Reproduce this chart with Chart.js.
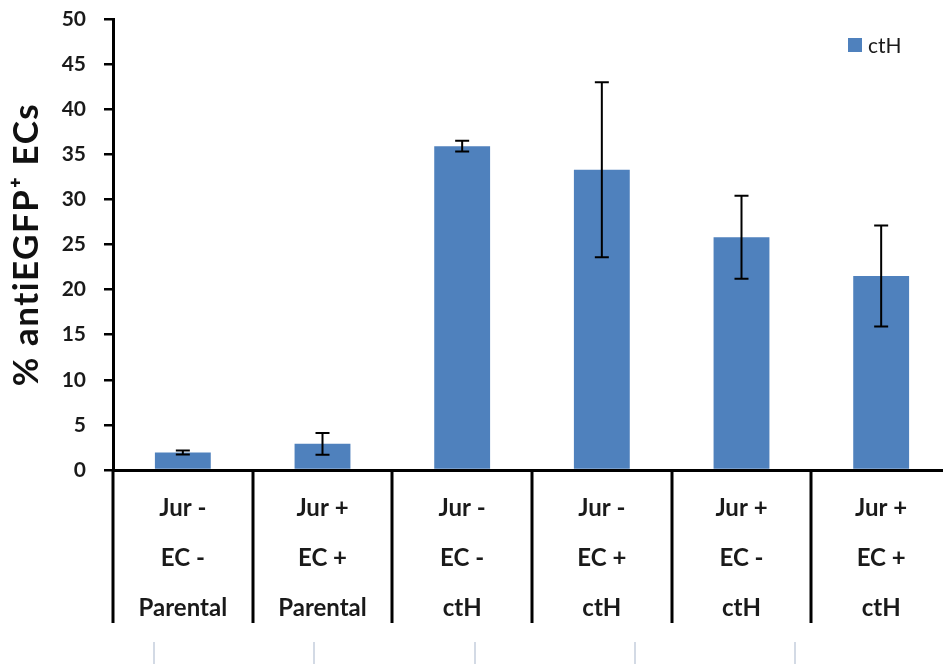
<!DOCTYPE html>
<html>
<head>
<meta charset="utf-8">
<script src="https://cdn.jsdelivr.net/npm/chart.js@4"></script>
<style>
  html, body { margin: 0; padding: 0; background: #fff; overflow: hidden; width: 943px; height: 664px; }
  #wrap { position: absolute; left: 0; top: 0; width: 960px; height: 664px; }
  .stub { position: absolute; top: 642px; width: 2px; height: 22px; background: #d3dae5; }
</style>
</head>
<body>
<div id="wrap"><canvas id="c"></canvas></div>
<div class="stub" style="left:153px"></div>
<div class="stub" style="left:313px"></div>
<div class="stub" style="left:474px"></div>
<div class="stub" style="left:634px"></div>
<div class="stub" style="left:794px"></div>
<script>
// Conditions: Jurkat (+/-), endothelial cells (+/-), cell line
const categories = [
  ['Jur -', 'EC -', 'Parental'],
  ['Jur +', 'EC +', 'Parental'],
  ['Jur -', 'EC -', 'ctH'],
  ['Jur -', 'EC +', 'ctH'],
  ['Jur +', 'EC -', 'ctH'],
  ['Jur +', 'EC +', 'ctH']
];
const seriesName = 'ctH';
const values = [1.95, 2.9, 35.9, 33.3, 25.8, 21.5];
const errors = [0.22, 1.2, 0.6, 9.7, 4.6, 5.6];
const yTitle = '% antiEGFP\u207A ECs';
const yMin = 0, yMax = 50, yStep = 5;

const barColor = '#4f81bd';
const textColor = '#1a1a1a';
const fontFamily = 'Lato, "Open Sans", sans-serif';

// whiskers: mean ± error
const errorBars = {
  id: 'errorBars',
  afterDatasetsDraw(chart) {
    const { ctx } = chart;
    const y = chart.scales.y;
    const meta = chart.getDatasetMeta(0);
    ctx.save();
    ctx.strokeStyle = '#000';
    ctx.lineWidth = 2;
    meta.data.forEach((bar, i) => {
      const yt = y.getPixelForValue(values[i] + errors[i]);
      const yb = y.getPixelForValue(values[i] - errors[i]);
      const cap = 7;
      ctx.beginPath();
      ctx.moveTo(bar.x, yt); ctx.lineTo(bar.x, yb);
      ctx.moveTo(bar.x - cap, yt); ctx.lineTo(bar.x + cap, yt);
      ctx.moveTo(bar.x - cap, yb); ctx.lineTo(bar.x + cap, yb);
      ctx.stroke();
    });
    ctx.restore();
  }
};

// table-style column dividers under the category axis
const categoryDividers = {
  id: 'categoryDividers',
  afterDraw(chart) {
    const { ctx } = chart;
    const x = chart.scales.x;
    const n = chart.data.labels.length;
    const step = x.getPixelForValue(1) - x.getPixelForValue(0);
    ctx.save();
    ctx.strokeStyle = '#000';
    ctx.lineWidth = 3;
    ctx.beginPath();
    for (let i = 0; i <= n; i++) {
      const px = Math.round(x.getPixelForValue(0) - step / 2 + i * step);
      ctx.moveTo(px, x.top);
      ctx.lineTo(px, x.top + 153);
    }
    ctx.stroke();
    ctx.restore();
  }
};

// rotated value-axis title, slightly tracked out
const valueAxisTitle = {
  id: 'valueAxisTitle',
  afterDraw(chart) {
    const { ctx, chartArea } = chart;
    ctx.save();
    ctx.translate(27, (chartArea.top + chartArea.bottom) / 2);
    ctx.rotate(-Math.PI / 2);
    ctx.fillStyle = '#111';
    ctx.font = 'bold 35px ' + fontFamily;
    if ('letterSpacing' in ctx) ctx.letterSpacing = '1.5px';
    ctx.textAlign = 'center';
    ctx.textBaseline = 'middle';
    ctx.fillText(yTitle, 0, 0);
    ctx.restore();
  }
};

// single-entry legend in the top-right corner
const cornerLegend = {
  id: 'cornerLegend',
  afterDraw(chart) {
    const { ctx, chartArea } = chart;
    const ds = chart.data.datasets[0];
    const bx = chartArea.right - 103;
    const by = chartArea.top + 19;
    ctx.save();
    ctx.fillStyle = ds.backgroundColor;
    ctx.fillRect(bx, by, 14, 14);
    ctx.fillStyle = textColor;
    ctx.font = '21px ' + fontFamily;
    ctx.textBaseline = 'middle';
    ctx.textAlign = 'left';
    ctx.fillText(ds.label, bx + 20, by + 8);
    ctx.restore();
  }
};

new Chart(document.getElementById('c'), {
  type: 'bar',
  data: {
    labels: categories,
    datasets: [{
      label: seriesName,
      data: values,
      backgroundColor: barColor,
      borderWidth: 0,
      barPercentage: 0.4,
      categoryPercentage: 1.0
    }]
  },
  options: {
    responsive: true,
    maintainAspectRatio: false,
    animation: false,
    devicePixelRatio: 1,
    layout: { padding: { top: 19, right: 9, bottom: 0, left: 0 } },
    plugins: {
      legend: { display: false },
      tooltip: { enabled: false }
    },
    scales: {
      x: {
        grid: { display: false },
        border: { display: true, color: '#000', width: 3 },
        ticks: {
          color: textColor,
          font: { family: fontFamily, size: 24, weight: 'bold', lineHeight: '50px' },
          padding: 5,
          maxRotation: 0,
          autoSkip: false
        },
        afterFit(scale) { scale.height = 194; }
      },
      y: {
        min: yMin,
        max: yMax,
        grid: { display: true, drawOnChartArea: false, drawTicks: true, tickLength: 9, color: '#000', lineWidth: 2.5 },
        border: { display: true, color: '#000', width: 3 },
        ticks: {
          stepSize: yStep,
          color: textColor,
          font: { family: fontFamily, size: 21, weight: 'bold' },
          padding: 18
        },
        title: { display: false },
        afterFit(scale) {
          scale.width = 113;
          scale.paddingTop = 0;
          scale.paddingBottom = 0;
        }
      }
    }
  },
  plugins: [errorBars, categoryDividers, valueAxisTitle, cornerLegend]
});
</script>
</body>
</html>
